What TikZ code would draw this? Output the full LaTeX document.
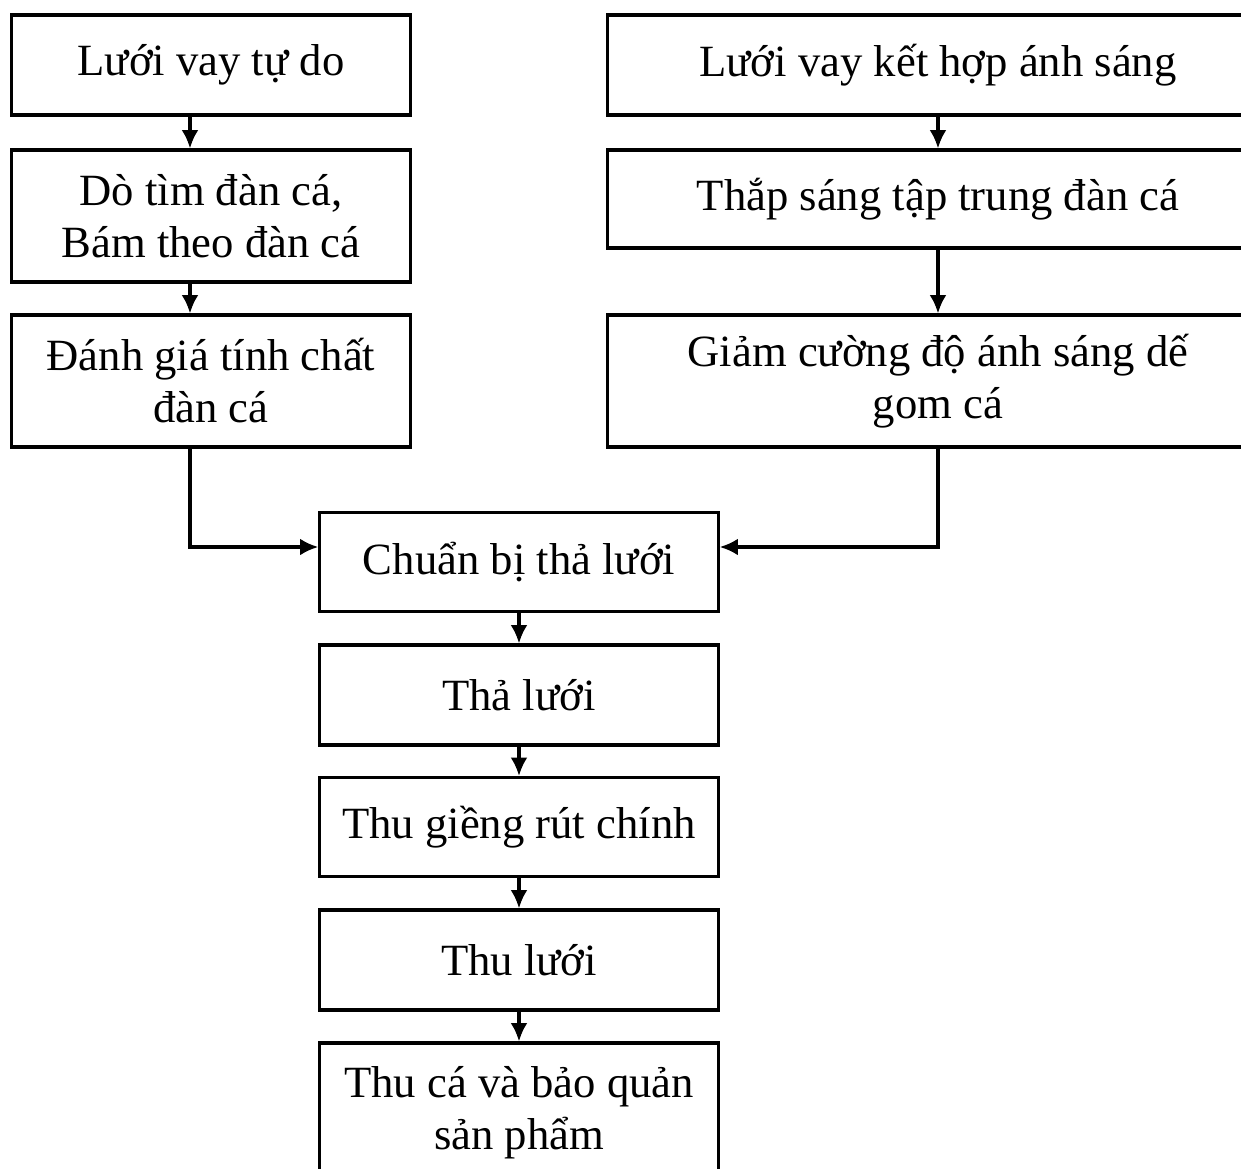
\documentclass[tikz,border=0pt]{standalone}
\usepackage{fontspec}
\setmainfont{Liberation Serif}
\usetikzlibrary{positioning}
\usetikzlibrary{arrows.meta}

\begin{document}
\begin{tikzpicture}[x=0.01cm, y=-0.01cm, line width=0.9pt, font=\fontsize{12.7}{14.8}\selectfont,
	box/.style={draw, align=center, inner sep=0pt},
	>={Latex[length=5.2pt,width=4.8pt]}]
	\clip (0,0) rectangle (1241,1169);
	% left column
	\node[box, minimum width=3.98cm, minimum height=1cm] (l1) at (211,65) {Lưới vay tự do};
	\node[box, minimum width=3.98cm, minimum height=1.32cm] (l2) at (211,216) {Dò tìm đàn cá,\\Bám theo đàn cá};
	\node[box, minimum width=3.98cm, minimum height=1.32cm] (l3) at (211,381) {Đánh giá tính chất\\đàn cá};
	% right column
	\node[box, minimum width=6.6cm, minimum height=1cm] (r1) at (938,65) {Lưới vay kết hợp ánh sáng};
	\node[box, minimum width=6.6cm, minimum height=0.98cm] (r2) at (938,199) {Thắp sáng tập trung đàn cá};
	\node[box, minimum width=6.6cm, minimum height=1.32cm] (r3) at (938,381) {Giảm cường độ ánh sáng dế\\gom cá};
	% center column
	\node[box, minimum width=3.98cm, minimum height=0.99cm] (c1) at (519,562) {Chuẩn bị thả lưới};
	\node[box, minimum width=3.98cm, minimum height=1cm] (c2) at (519,695) {Thả lưới};
	\node[box, minimum width=3.98cm, minimum height=0.99cm] (c3) at (519,827) {Thu giềng rút chính};
	\node[box, minimum width=3.98cm, minimum height=1cm] (c4) at (519,960) {Thu lưới};
	\node[box, minimum width=3.98cm, minimum height=1.4cm] (c5) at (519,1113) {Thu cá và bảo quản\\sản phẩm};

	\coordinate (joinL) at (190,547);
	\coordinate (joinR) at (938,547);

	\draw[->] (l1.south -| joinL) -- (l2.north -| joinL);
	\draw[->] (l2.south -| joinL) -- (l3.north -| joinL);
	\draw[->] (l3.south -| joinL) -- (joinL) -- (joinL -| c1.west);
	\draw[->] (r1) -- (r2);
	\draw[->] (r2) -- (r3);
	\draw[->] (r3.south -| joinR) -- (joinR) -- (joinR -| c1.east);
	\draw[->] (c1) -- (c2);
	\draw[->] (c2) -- (c3);
	\draw[->] (c3) -- (c4);
	\draw[->] (c4) -- (c5);
\end{tikzpicture}
\end{document}
